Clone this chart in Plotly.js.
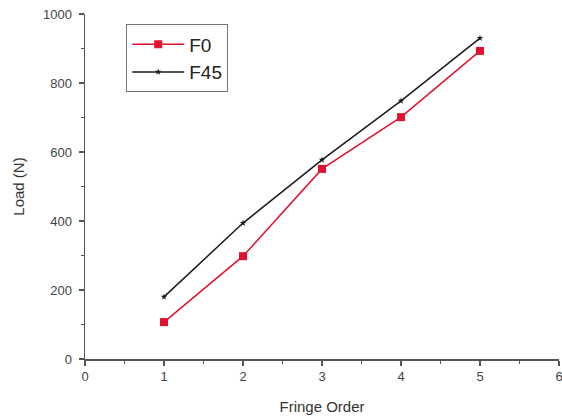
<!DOCTYPE html>
<html><head><meta charset="utf-8">
<script src="https://cdn.plot.ly/plotly-3.0.1.min.js"></script>
<style>html,body{margin:0;padding:0;background:#fff}#c{width:562px;height:416px}</style>
</head><body><div id="c"></div>
<script>
const fringeOrder = [1, 2, 3, 4, 5];
const loadF0 = [107, 298, 551, 701, 893];
const loadF45 = [180, 394, 577, 748, 930];
const xTicks = [0, 1, 2, 3, 4, 5, 6];
const yTicks = [0, 200, 400, 600, 800, 1000];

const traces = [
  {x: fringeOrder, y: loadF0, name: 'F0', type: 'scatter', mode: 'lines+markers',
   line: {color: '#e3112d', width: 1.5}, marker: {symbol: 'square', size: 8, color: '#e3112d'}},
  {x: fringeOrder, y: loadF45, name: 'F45', type: 'scatter', mode: 'lines+markers',
   line: {color: '#1a1a1a', width: 1.5}, marker: {symbol: 'star', size: 5, color: '#1a1a1a'}}
];
const axisCommon = {
  showgrid: false, zeroline: false, showline: true, linecolor: '#555', linewidth: 1.5,
  ticks: 'outside', ticklen: 5, tickwidth: 1.5, tickcolor: '#555',
  ticklabeloverflow: 'allow',
  tickfont: {family: 'Liberation Sans, Arial', size: 13, color: '#444'},
  minor: {ticks: 'outside', ticklen: 3, tickwidth: 1.5, tickcolor: '#555'}
};
const layout = {
  width: 562, height: 416,
  margin: {l: 85, r: 3, t: 14, b: 57},
  paper_bgcolor: '#fff', plot_bgcolor: '#fff',
  showlegend: true,
  legend: {x: 0.087, y: 0.97, xanchor: 'left', yanchor: 'top',
    bordercolor: '#777', borderwidth: 1, bgcolor: '#fff', itemwidth: 52,
    tracegroupgap: 0,
    font: {family: 'Liberation Sans, Arial', size: 19, color: '#222'}},
  xaxis: Object.assign({}, axisCommon, {
    range: [0, 6], tickvals: xTicks, ticktext: xTicks.map(String),
    minor: Object.assign({}, axisCommon.minor, {dtick: 0.5, tick0: 0}),
    title: {text: 'Fringe Order', font: {family: 'Liberation Sans, Arial', size: 15, color: '#333'}, standoff: 18}
  }),
  yaxis: Object.assign({}, axisCommon, {
    range: [0, 1000], tickvals: yTicks, ticktext: yTicks.map(String),
    ticklabelstandoff: 4,
    minor: Object.assign({}, axisCommon.minor, {dtick: 100, tick0: 0}),
    title: {text: 'Load (N)', font: {family: 'Liberation Sans, Arial', size: 15, color: '#333'}, standoff: 14}
  })
};
Plotly.newPlot('c', traces, layout, {displayModeBar: false, staticPlot: true});
</script></body></html>
